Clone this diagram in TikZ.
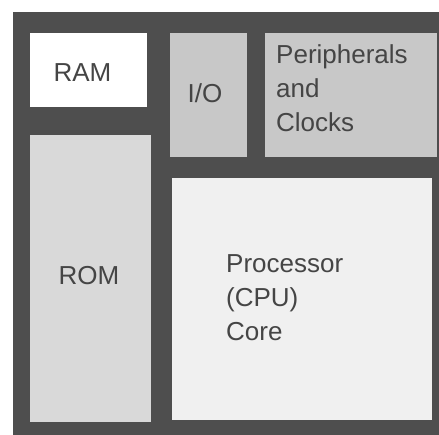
\documentclass[tikz,border=0pt]{standalone}
\usepackage{fontspec}
\setmainfont{Liberation Sans}
\begin{document}
\begin{tikzpicture}[x=1pt,y=-1pt,
  box/.style={draw=none,inner sep=0pt,anchor=north west},
  lbl/.style={inner sep=0pt,text=txtgray,font=\fontsize{26}{34}\selectfont},
]
\definecolor{darkgray}{HTML}{4E4E4E}
\definecolor{midgray}{HTML}{C8C8C8}
\definecolor{romgray}{HTML}{D9D9D9}
\definecolor{cpugray}{HTML}{F0F0F0}
\definecolor{txtgray}{HTML}{454545}
\useasboundingbox (0,0) rectangle (439,435);
\fill[white] (0,0) rectangle (439,435);
\node[box,fill=darkgray,minimum width=426pt,minimum height=423pt] (chip) at (13,12) {};
\node[box,fill=white,minimum width=117pt,minimum height=74pt] (ram) at (30,33) {};
\node[box,fill=midgray,minimum width=77pt,minimum height=124pt] (io) at (170,33) {};
\node[box,fill=midgray,minimum width=172pt,minimum height=124pt] (per) at (265,33) {};
\node[box,fill=romgray,minimum width=121pt,minimum height=287pt] (rom) at (30,135) {};
\node[box,fill=cpugray,minimum width=260pt,minimum height=242pt] (cpu) at (172,178) {};
\node[lbl,anchor=base] (ramt) at (82.5,82) {RAM};
\node[lbl,anchor=base] (iot) at (205,103) {I/O};
\node[lbl,anchor=base] (romt) at (89,285) {ROM};
\node[lbl,anchor=north west,align=left] (pert) at (276,44) {Peripherals\\and\\Clocks};
\node[lbl,anchor=north west,align=left] (cput) at (226,254) {Processor\\(CPU)\\Core};
\end{tikzpicture}
\end{document}
